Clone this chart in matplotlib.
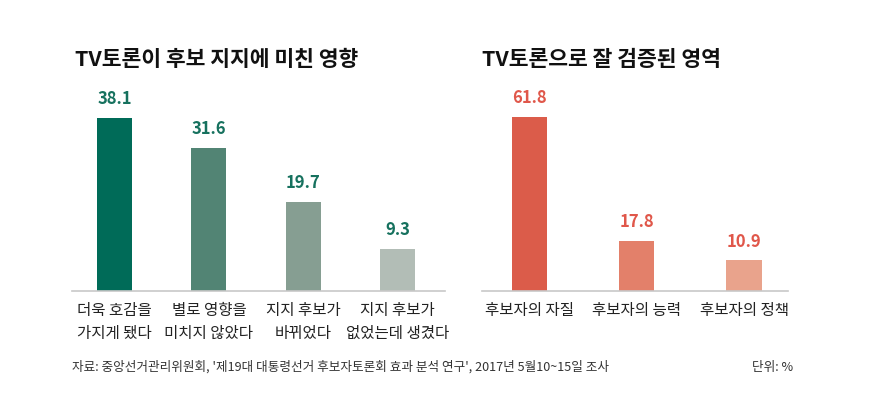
import matplotlib
matplotlib.use('Agg')
import matplotlib.pyplot as plt

plt.rcParams['font.family'] = ['Noto Sans CJK KR', 'DejaVu Sans']

# Left chart: influence of TV debate on support
left_title = 'TV토론이 후보 지지에 미친 영향'
left_labels = ['더욱 호감을\n가지게 됐다', '별로 영향을\n미치지 않았다',
               '지지 후보가\n바뀌었다', '지지 후보가\n없었는데 생겼다']
left_values = [38.1, 31.6, 19.7, 9.3]
left_colors = ['#006b58', '#528474', '#869e92', '#b2bdb6']
left_text_color = '#16715e'

# Right chart: areas verified well by TV debate
right_title = 'TV토론으로 잘 검증된 영역'
right_labels = ['후보자의 자질', '후보자의 능력', '후보자의 정책']
right_values = [61.8, 17.8, 10.9]
right_colors = ['#db5c4a', '#e3806a', '#e9a38c']
right_text_color = '#e0574a'

source = ("자료: 중앙선거관리위원회, '제19대 대통령선거 후보자토론회 효과 분석 연구', "
          "2017년 5월10~15일 조사")
unit = '단위: %'

W, H = 883, 420
fig = plt.figure(figsize=(W / 100, H / 100), dpi=100)


def px_axes(x0, x1, y_top, y_base):
    return fig.add_axes([x0 / W, (H - y_base) / H, (x1 - x0) / W,
                         (y_base - y_top) / H])


def draw_panel(ax, labels, values, colors, tcolor, xlim, ymax, width):
    xs = range(len(values))
    ax.bar(xs, values, width=width, color=colors)
    ax.set_xlim(*xlim)
    ax.set_ylim(0, ymax)
    for s in ['top', 'right', 'left']:
        ax.spines[s].set_visible(False)
    ax.spines['bottom'].set_color('#c8c8c8')
    ax.spines['bottom'].set_linewidth(1.2)
    ax.set_yticks([])
    ax.set_xticks(list(xs))
    ax.set_xticklabels(labels, fontsize=11.2, color='#222222',
                       linespacing=1.42, va='top')
    ax.tick_params(axis='x', length=0, pad=8)
    for x, v in zip(xs, values):
        ax.annotate(f'{v}', (x, v), xytext=(0, 7), textcoords='offset points',
                    ha='center', va='bottom', fontsize=12, fontweight='bold',
                    color=tcolor)


ax1 = px_axes(72, 445, 80, 291)
draw_panel(ax1, left_labels, left_values, left_colors, left_text_color,
           (-0.45, 3.50), 46.5, 0.37)

ax2 = px_axes(482, 788, 80, 291)
draw_panel(ax2, right_labels, right_values, right_colors, right_text_color,
           (-0.443, 2.41), 74.9, 0.33)

fig.text(75 / W, 1 - 59 / H, left_title, fontsize=15.5, fontweight='bold',
         va='center', ha='left', color='#111111')
fig.text(482 / W, 1 - 59 / H, right_title, fontsize=15.5, fontweight='bold',
         va='center', ha='left', color='#111111')

fig.text(72 / W, 1 - 367 / H, source, fontsize=9.1, va='center', ha='left',
         color='#333333')
fig.text(793 / W, 1 - 367 / H, unit, fontsize=9.1, va='center', ha='right',
         color='#333333')

fig.savefig('out.png', dpi=100, facecolor='white')
